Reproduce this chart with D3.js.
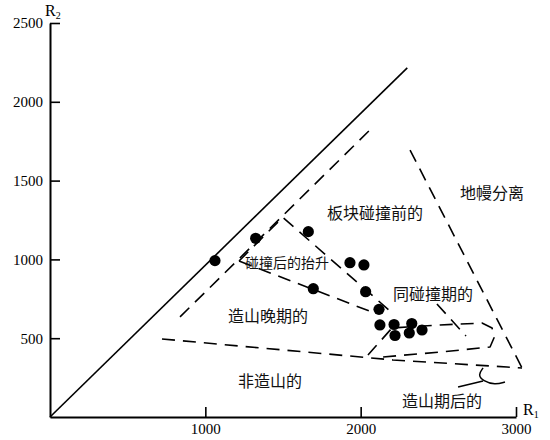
<!DOCTYPE html>
<html>
<head>
<meta charset="utf-8">
<script src="https://cdn.jsdelivr.net/npm/d3@7"></script>
<style>
  html, body { margin: 0; padding: 0; background: #fff; }
  svg { display: block; }
  .tick text { font-family: "Liberation Serif", "Times New Roman", serif; font-size: 15px; fill: #000; }
  .region { font-family: "Noto Sans CJK SC", sans-serif; fill: #111; }
</style>
</head>
<body>
<svg id="chart" width="550" height="440"></svg>
<script>
// Sample points on the R1–R2 diagram
const r1Values = [1062, 1324, 1663, 1931, 2021, 1695, 2032, 2118, 2124, 2215, 2329, 2221, 2313, 2395];
const r2Values = [992, 1134, 1176, 979, 965, 814, 795, 683, 584, 587, 593, 517, 533, 552];

// Axis ticks
const r1Ticks = [1000, 2000, 3000];
const r2Ticks = [500, 1000, 1500, 2000, 2500];

// Reference line and field boundaries, [R1, R2]
const referenceLine = [[0, 0], [2300, 2215]];
const upperBoundary = [[837, 635], [2060, 1822]];
const mantleBoundary = [[2318, 1694], [3039, 311]];
const lowerBoundary = [[721, 495], [2208, 362], [2942, 317], [3039, 311]];
const upliftUpper = [[1217, 990], [1498, 1267], [2190, 672]];
const upliftLower = [[1217, 990], [2073, 666]];
const synCollisionEdge = [[2491, 717], [2678, 514]];
const synCollisionField = [[2047, 393], [2202, 565], [2511, 584], [2781, 596], [2846, 565],
                           [2858, 501], [2833, 444], [2511, 412], [2144, 381]];
const postOrogenicBrace = [[2788, 311], [2755, 267], [2788, 228], [2865, 203], [2929, 222]];
const postOrogenicLeader = [[2627, 190], [2788, 228]];

// Field names with their anchor points [R1, R2]
const fieldNames = ["板块碰撞前的", "地幔分离", "碰撞后的抬升", "造山晚期的", "同碰撞期的", "非造山的", "造山期后的"];
const fieldAnchors = [[1783, 1301], [2640, 1428], [1255, 984], [1146, 647], [2208, 787], [1210, 235], [2266, 108]];
const fieldFontSizes = [16, 16, 14, 16, 16, 16, 16];

const svg = d3.select("#chart");
const x = d3.scaleLinear().domain([0, 3000]).range([50, 516]);
const y = d3.scaleLinear().domain([0, 2500]).range([417, 23]);
const fmt = d3.format("d");

// Axes with inward ticks
const yAxis = svg.append("g")
  .attr("transform", `translate(${x(0)},0)`)
  .call(d3.axisLeft(y).tickValues(r2Ticks).tickFormat(fmt).tickSize(-10).tickSizeOuter(0).tickPadding(7));
const xAxis = svg.append("g")
  .attr("transform", `translate(0,${y(0)})`)
  .call(d3.axisBottom(x).tickValues(r1Ticks).tickFormat(fmt).tickSize(-10).tickSizeOuter(0).tickPadding(6));
[xAxis, yAxis].forEach(g => {
  g.select(".domain").attr("stroke", "#000").attr("stroke-width", 2);
  g.selectAll(".tick line").attr("stroke", "#000").attr("stroke-width", 1.6);
});

// Axis titles R1 / R2 with subscripts
function axisTitle(px, py, sub) {
  const t = svg.append("text")
    .attr("x", px).attr("y", py)
    .attr("font-family", "Liberation Serif, Times New Roman, serif")
    .attr("font-size", 16).attr("fill", "#000");
  t.append("tspan").text("R");
  t.append("tspan").attr("font-size", 10).attr("dy", 3).text(sub);
}
axisTitle(x(0) - 5, y(2500) - 7, "2");
axisTitle(x(3000) + 7, y(0) - 2, "1");

const line = d3.line().x(d => x(d[0])).y(d => y(d[1]));

// Solid reference line
svg.append("path").attr("d", line(referenceLine))
  .attr("fill", "none").attr("stroke", "#000").attr("stroke-width", 1.6);

// Dashed field boundaries
const dashed = [upperBoundary, mantleBoundary, lowerBoundary, upliftUpper, upliftLower,
                synCollisionEdge, synCollisionField];
svg.append("g").selectAll("path").data(dashed).join("path")
  .attr("d", d => line(d))
  .attr("fill", "none").attr("stroke", "#000").attr("stroke-width", 1.6)
  .attr("stroke-dasharray", "13,8").attr("stroke-linejoin", "round");

// Post-orogenic marker and leader
svg.append("path").attr("d", d3.line().curve(d3.curveBasis).x(d => x(d[0])).y(d => y(d[1]))(postOrogenicBrace))
  .attr("fill", "none").attr("stroke", "#000").attr("stroke-width", 1.5);
svg.append("path").attr("d", line(postOrogenicLeader))
  .attr("fill", "none").attr("stroke", "#000").attr("stroke-width", 1.5);

// Sample points
svg.append("g").selectAll("circle").data(r1Values.map((v, i) => [v, r2Values[i]])).join("circle")
  .attr("cx", d => x(d[0])).attr("cy", d => y(d[1])).attr("r", 5.6).attr("fill", "#000");

// Field labels
svg.append("g").selectAll("text").data(fieldNames).join("text")
  .attr("class", "region")
  .attr("x", (d, i) => x(fieldAnchors[i][0]))
  .attr("y", (d, i) => y(fieldAnchors[i][1]))
  .attr("dominant-baseline", "central")
  .attr("font-size", (d, i) => fieldFontSizes[i])
  .text(d => d);
</script>
</body>
</html>
